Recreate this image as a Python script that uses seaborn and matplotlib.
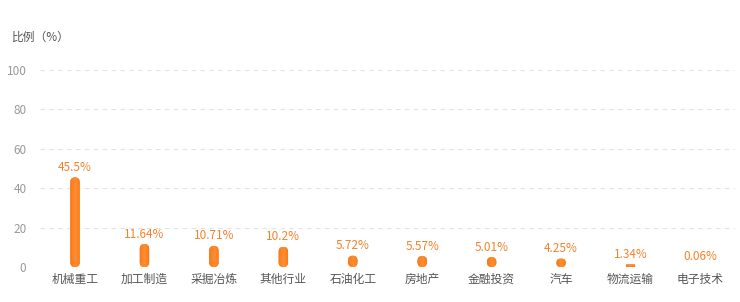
import numpy as np
import pandas as pd
import matplotlib
matplotlib.use("Agg")
import matplotlib.pyplot as plt
from matplotlib.patches import FancyBboxPatch
from matplotlib.colors import LinearSegmentedColormap
import seaborn as sns

industries = ["机械重工", "加工制造", "采掘冶炼", "其他行业", "石油化工",
              "房地产", "金融投资", "汽车", "物流运输", "电子技术"]
shares = [45.5, 11.64, 10.71, 10.2, 5.72, 5.57, 5.01, 4.25, 1.34, 0.06]
value_labels = ["45.5%", "11.64%", "10.71%", "10.2%", "5.72%",
                "5.57%", "5.01%", "4.25%", "1.34%", "0.06%"]
y_ticks = [0, 20, 40, 60, 80, 100]

sns.set_theme(style="white")
plt.rcParams["font.family"] = ["Noto Sans CJK SC", "DejaVu Sans"]

df = pd.DataFrame({"industry": industries, "share": shares})

W, H = 740, 302
fig = plt.figure(figsize=(W / 100, H / 100), dpi=100)
ax = fig.add_axes([40.3 / W, 35 / H, (734.7 - 40.3) / W, (267 - 70) / H])

sns.barplot(data=df, x="industry", y="share", ax=ax, width=0.135,
            color="#f97d1f", saturation=1, errorbar=None)

ax.set_ylim(0, 100)
ax.set_xlim(-0.5, len(industries) - 0.5)
ax.set_yticks(y_ticks)
ax.set_yticklabels([str(t) for t in y_ticks], color="#999999", fontsize=8.5)
ax.tick_params(axis="y", length=0, pad=10)
ax.tick_params(axis="x", length=0, pad=4, labelsize=8.5, labelcolor="#555555")
ax.set_xlabel("")
ax.set_ylabel("")
for s in ax.spines.values():
    s.set_visible(False)
for t in y_ticks:
    ax.axhline(t, color="#e3e3e3", lw=0.8, ls=(0, (4, 4)), zorder=0)

fig.canvas.draw()
# data units per pixel on each axis
px_x = (ax.get_xlim()[1] - ax.get_xlim()[0]) / ax.bbox.width
px_y = (ax.get_ylim()[1] - ax.get_ylim()[0]) / ax.bbox.height
aspect = px_y / px_x

cmap = LinearSegmentedColormap.from_list("bar", ["#f8781a", "#ff8e30", "#f7771a"])
grad = np.linspace(0, 1, 64).reshape(1, -1)

bars = list(ax.patches)
for p in bars:
    x0, w, h = p.get_x(), p.get_width(), p.get_height()
    p.remove()
    if h <= 0.1:
        continue
    h_scaled = h / aspect
    r = min(w / 2, h_scaled / 2)
    fb = FancyBboxPatch((x0, 0), w, h,
                        boxstyle=f"round,pad=0,rounding_size={r}",
                        mutation_aspect=aspect, facecolor="#f97d1f",
                        edgecolor="none", zorder=3)
    ax.add_patch(fb)
    im = ax.imshow(grad, cmap=cmap, aspect="auto", interpolation="bilinear",
                   extent=(x0 - w * 0.05, x0 + w * 1.05, -0.5, h + 0.5), zorder=4)
    im.set_clip_path(fb)

for i, (val, lab) in enumerate(zip(shares, value_labels)):
    ax.annotate(lab, (i, val), xytext=(0, 2.5), textcoords="offset points",
                ha="center", va="bottom", color="#f5822a", fontsize=8.5)

ax.set_xlim(-0.5, len(industries) - 0.5)
ax.set_ylim(0, 100)

fig.text(12 / W, 1 - 37 / H, "比例（%）", color="#555555", fontsize=8.5,
         ha="left", va="center")

fig.savefig("out.png", dpi=100)
